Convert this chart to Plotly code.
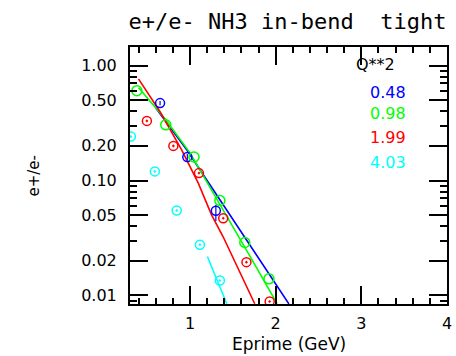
import plotly.graph_objects as go

# ---- data ----
q2_labels = ["0.48", "0.98", "1.99", "4.03"]
colors = ["#0000ff", "#00ff00", "#ff0000", "#00ffff"]

blue_x = [0.651, 0.969, 1.302]
blue_y = [0.471, 0.160, 0.0545]
blue_err_plus = [0.02, 0.010, 0.007]
blue_err_minus = [0.02, 0.010, 0.010]

green_x = [0.380, 0.717, 1.047, 1.349, 1.640, 1.922]
green_y = [0.603, 0.305, 0.160, 0.067, 0.0289, 0.01396]

red_x = [0.497, 0.806, 1.105, 1.388, 1.659, 1.930]
red_y = [0.330, 0.200, 0.116, 0.047, 0.0195, 0.00887]

cyan_x = [0.310, 0.590, 0.845, 1.116, 1.349]
cyan_y = [0.241, 0.120, 0.0548, 0.0276, 0.0135]

blue_fit_x = [0.601, 0.962, 1.349, 2.155]
blue_fit_y = [0.426, 0.185, 0.0680, 0.00844]
green_fit_x = [0.401, 0.709, 1.0, 1.349, 1.698, 2.017]
green_fit_y = [0.640, 0.344, 0.174, 0.0627, 0.0221, 0.00848]
red_fit_x = [0.399, 0.651, 0.903, 1.097, 1.252, 1.387, 1.756]
red_fit_y = [0.766, 0.396, 0.185, 0.0949, 0.0503, 0.0324, 0.00848]
cyan_fit_x = [1.203, 1.430]
cyan_fit_y = [0.0218, 0.00848]

y_tickvals = [0.01, 0.02, 0.05, 0.1, 0.2, 0.5, 1.0]
y_ticktext = ["0.01", "0.02", "0.05", "0.10", "0.20", "0.50", "1.00"]
y_minor = [0.009, 0.03, 0.04, 0.06, 0.07, 0.08, 0.09,
           0.3, 0.4, 0.6, 0.7, 0.8, 0.9]
x_tickvals = [1, 2, 3, 4]

fig = go.Figure()

# fit lines
for fx, fy, c in [(blue_fit_x, blue_fit_y, colors[0]),
                  (green_fit_x, green_fit_y, colors[1]),
                  (red_fit_x, red_fit_y, colors[2]),
                  (cyan_fit_x, cyan_fit_y, colors[3])]:
    fig.add_trace(go.Scatter(x=fx, y=fy, mode="lines",
                             line=dict(color=c, width=1.6),
                             showlegend=False, hoverinfo="skip"))

# data points
fig.add_trace(go.Scatter(x=blue_x, y=blue_y, mode="markers",
                         marker=dict(symbol="circle-open", size=9, color=colors[0],
                                     line=dict(width=1.5, color=colors[0])),
                         error_y=dict(type="data", symmetric=False, array=blue_err_plus,
                                      arrayminus=blue_err_minus, color=colors[0],
                                      thickness=1.2, width=0),
                         showlegend=False))
fig.add_trace(go.Scatter(x=green_x, y=green_y, mode="markers",
                         marker=dict(symbol="circle-open", size=10, color=colors[1],
                                     line=dict(width=1.5, color=colors[1])),
                         showlegend=False))
fig.add_trace(go.Scatter(x=red_x, y=red_y, mode="markers",
                         marker=dict(symbol="circle-open-dot", size=9, color=colors[2],
                                     line=dict(width=1.5, color=colors[2])),
                         showlegend=False))
fig.add_trace(go.Scatter(x=cyan_x, y=cyan_y, mode="markers",
                         marker=dict(symbol="circle-open-dot", size=9, color=colors[3],
                                     line=dict(width=1.5, color=colors[3])),
                         showlegend=False))

# pixel geometry helpers for annotations
L, R, T, B = 130, 447, 47, 304
W, H = 456, 356


def px_x(px):
    return (px - L) / (R - L)


def px_y(py):
    return (B - py) / (B - T)


annotations = [
    dict(text="Q**2", x=px_x(354), y=px_y(64), xref="paper", yref="paper",
         xanchor="left", yanchor="middle", showarrow=False,
         font=dict(family="DejaVu Sans", size=16, color="black")),
    dict(text="e+/e-", x=px_x(33), y=0.5, xref="paper", yref="paper",
         xanchor="center", yanchor="middle", textangle=-90, showarrow=False,
         font=dict(family="DejaVu Sans", size=15, color="black")),
    dict(text="Eprime (GeV)", x=px_x(289), y=px_y(344), xref="paper", yref="paper",
         xanchor="center", yanchor="middle", showarrow=False,
         font=dict(family="DejaVu Sans", size=17, color="black")),
]
leg_py = [92, 113, 137, 162]
for lab, c, py in zip(q2_labels, colors, leg_py):
    annotations.append(dict(text=lab, x=px_x(408), y=px_y(py), xref="paper", yref="paper",
                            xanchor="right", yanchor="middle", showarrow=False,
                            font=dict(family="DejaVu Sans", size=16, color=c)))

fig.update_layout(
    width=W, height=H,
    margin=dict(l=L, r=W - R, t=T, b=H - B, pad=0, autoexpand=False),
    paper_bgcolor="white", plot_bgcolor="white",
    title=dict(text="e+/e- NH3 in-bend\u00a0\u00a0tight", x=287.5 / W, y=1 - 21.5 / H,
               xanchor="center", yanchor="middle",
               font=dict(family="DejaVu Sans Mono", size=22, color="black")),
    annotations=annotations,
    showlegend=False,
)

fig.update_xaxes(
    range=[0.3, 4.0], showgrid=False, zeroline=False, automargin=False,
    showline=True, linecolor="black", linewidth=2, mirror="allticks",
    tickmode="array", tickvals=x_tickvals, ticks="inside", ticklen=18,
    tickwidth=1.5, tickcolor="black",
    minor=dict(ticks="inside", ticklen=6, tickwidth=1.5, tickcolor="black", dtick=0.2, tick0=0),
    tickfont=dict(family="DejaVu Sans", size=16, color="black"),
    ticklabelstandoff=4,
)
fig.update_yaxes(
    type="log", range=[-2.074, 0.161], showgrid=False, zeroline=False, automargin=False,
    showline=True, linecolor="black", linewidth=2, mirror="allticks",
    tickmode="array", tickvals=y_tickvals, ticktext=y_ticktext,
    ticks="inside", ticklen=18, tickwidth=1.5, tickcolor="black",
    minor=dict(ticks="inside", ticklen=7, tickwidth=1.5, tickcolor="black",
               tickmode="array", tickvals=y_minor),
    tickfont=dict(family="DejaVu Sans", size=16, color="black"),
    ticklabelstandoff=8,
)

fig.write_html(
    "out.html",
    config={"displayModeBar": False},
    post_script="document.body.style.margin='0';document.body.style.overflow='hidden';",
)
